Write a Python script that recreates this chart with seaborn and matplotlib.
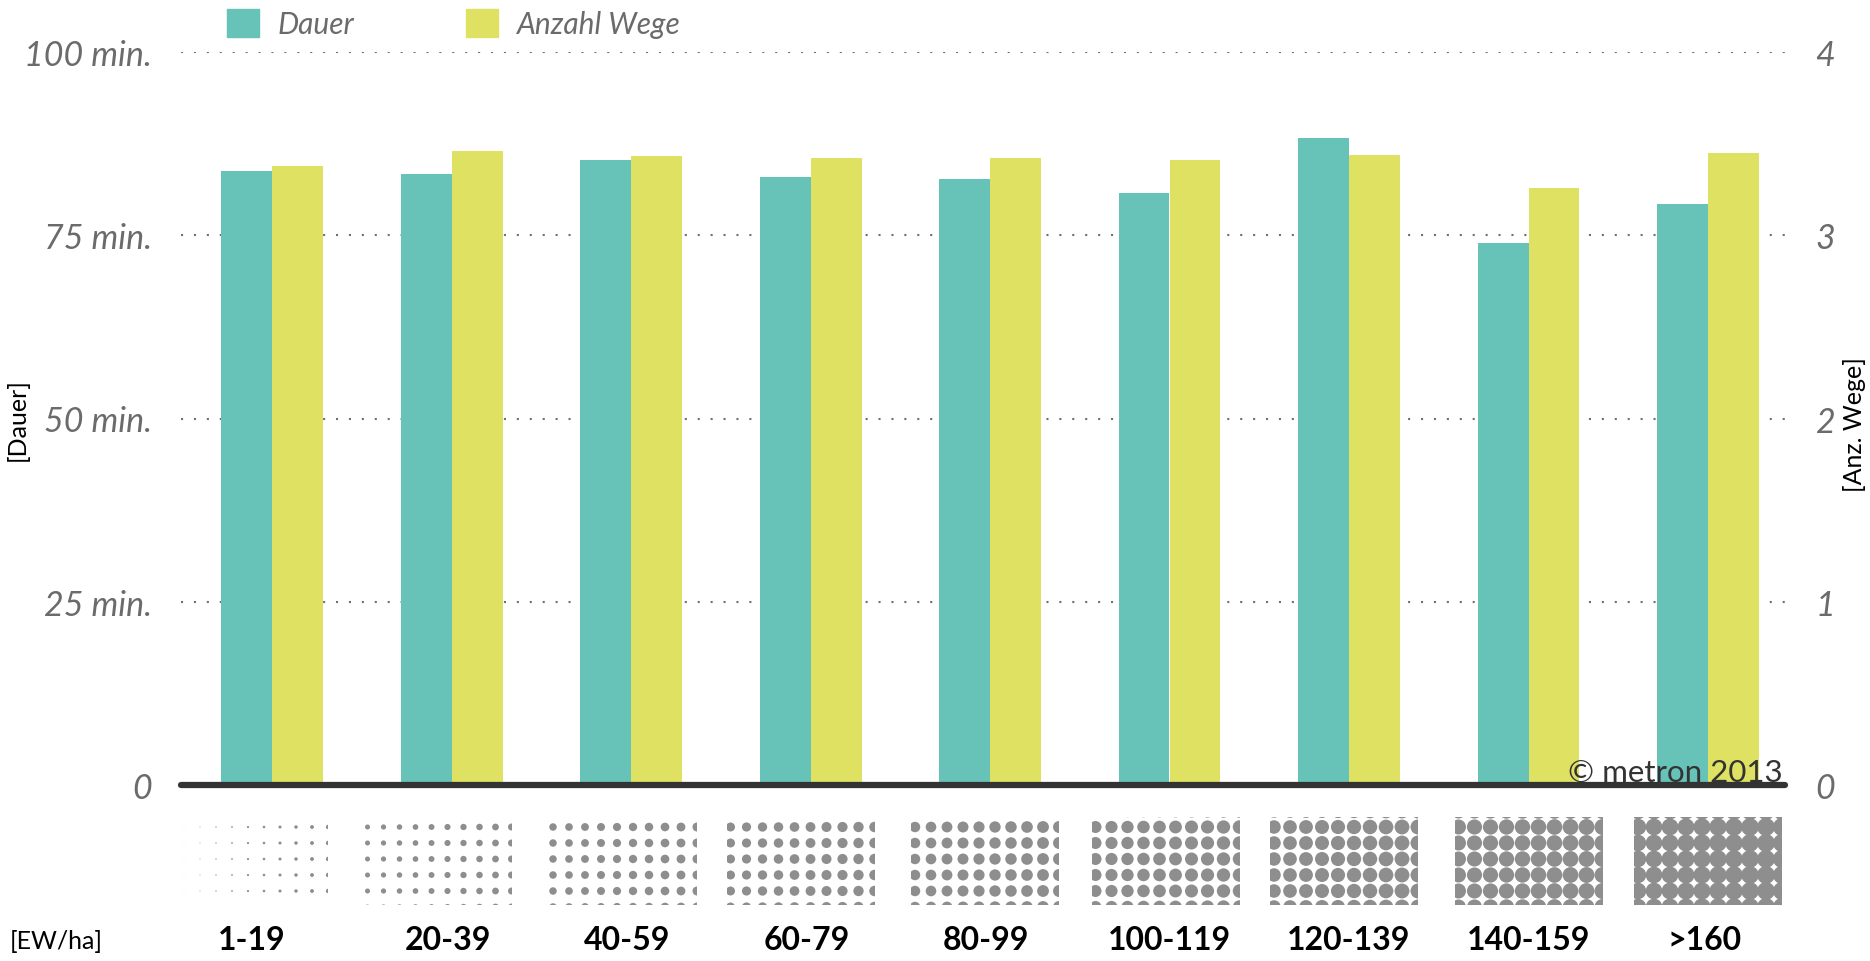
import pandas as pd
import matplotlib.pyplot as plt
import seaborn as sns
from matplotlib.patches import Patch, Rectangle

categories = ["1-19", "20-39", "40-59", "60-79", "80-99", "100-119", "120-139", "140-159", ">160"]
dauer = [83.8, 83.4, 85.3, 82.9, 82.7, 80.7, 88.3, 73.9, 79.3]
wege = [3.38, 3.46, 3.43, 3.42, 3.42, 3.41, 3.44, 3.26, 3.45]
series = ["Dauer", "Anzahl Wege"]
left_ticks = [0, 25, 50, 75, 100]
left_labels = ["0", "25 min.", "50 min.", "75 min.", "100 min."]
right_ticks = [0, 1, 2, 3, 4]
# dot diameter (px) in the density pattern, first and last column
dot_start = [0.5, 5.0, 7.5, 9.0, 10.5, 12.0, 13.5, 15.0, 16.5]
dot_end = [4.3, 7.0, 9.0, 10.5, 12.0, 13.5, 15.0, 16.0, 18.0]

teal = "#67C2B8"
yellow = "#DFE163"
grey = "#6B6B6B"
W, H = 1870, 962
# pattern / label shift against the bar groups, in px
pattern_shift = [-18, -14, -8, -10, -5, -4, -5, 0, 0]
label_shift = [-20, -4, -4, -4, -4, 0, 0, 0, -3]

sns.set_theme(style="white")
plt.rcParams["font.family"] = ["Lato", "DejaVu Sans"]

# right axis (0-4 Wege) mapped onto the left axis (0-100 min.)
ratio = 100 / 4
df = pd.DataFrame({
    "Kategorie": categories * 2,
    "Reihe": ["Dauer"] * len(categories) + ["Anzahl Wege"] * len(categories),
    "Wert": dauer + [w * ratio for w in wege],
})
pal = {"Dauer": teal, "Anzahl Wege": yellow}

unit = 179.5
xlim = (-(272 - 181) / unit, 8 + (1785 - 1708) / unit)

fig = plt.figure(figsize=(W / 100, H / 100), dpi=100)
ax = fig.add_axes([181 / W, 1 - 786 / H, 1604 / W, 733 / H])

sns.barplot(data=df, x="Kategorie", y="Wert", hue="Reihe", hue_order=series,
            order=categories, palette=pal, width=102 / unit, gap=0, saturation=1,
            linewidth=0, legend=False, ax=ax)

ax.set_xlim(*xlim)
ax.set_ylim(0, 100)
ax.set_xlabel("")
ax.set_ylabel("")
for s in ax.spines.values():
    s.set_visible(False)

ax2 = ax.twinx()
ax2.set_ylim(0, 4)
for s in ax2.spines.values():
    s.set_visible(False)
ax2.grid(False)

ax.set_axisbelow(True)
ax.grid(axis="y", color="#707070", linestyle=(0, (1, 5.2)), linewidth=1.5)
ax.grid(axis="x", visible=False)
ax.axhline(0, color="#333333", linewidth=4.5, zorder=5, clip_on=False)

ax.set_yticks(left_ticks, left_labels)
ax.tick_params(axis="y", length=0, pad=21, labelsize=24.5, labelcolor=grey)
ax2.set_yticks(right_ticks, [str(t) for t in right_ticks])
ax2.tick_params(axis="y", length=0, pad=22, labelsize=24.5, labelcolor=grey)
for lab in ax.get_yticklabels() + ax2.get_yticklabels():
    lab.set_fontstyle("italic")

ax.set_xticks([i + label_shift[i] / unit for i in range(len(categories))], categories)
ax.tick_params(axis="x", length=0, pad=101, labelsize=23, labelcolor="black")
for lab in ax.get_xticklabels():
    lab.set_fontweight("bold")

# density pattern under each category
pax = fig.add_axes([181 / W, 1 - 906 / H, 1604 / W, 88 / H])
pax.set_xlim(*xlim)
pax.set_ylim(906, 818)
pax.axis("off")
pw = 148 / unit
for i in range(len(categories)):
    left = i + pattern_shift[i] / unit - pw / 2
    clip = Rectangle((left, 818), pw, 88, transform=pax.transData)
    xs, ys, ss = [], [], []
    for k in range(10):
        d = dot_start[i] + (dot_end[i] - dot_start[i]) * k / 9
        for r in range(7):
            xs.append(left + (4 + 16 * k) / unit)
            ys.append(812 + 16 * r)
            ss.append((d * 0.72) ** 2)
    sc = pax.scatter(xs, ys, s=ss, color="#8E8E8E", linewidths=0)
    sc.set_clip_path(clip)

fig.legend([Patch(color=teal), Patch(color=yellow)], series, loc="upper left",
           bbox_to_anchor=(227 / W, 1 - 10 / H), ncol=2, frameon=False,
           handlelength=1.07, handleheight=1.07, handletextpad=0.62, columnspacing=3.75,
           borderpad=0, borderaxespad=0, labelcolor=grey,
           prop=dict(size=21.5, style="italic"))

fig.text(17 / W, 1 - 420 / H, "[Dauer]", rotation=90, ha="center", va="center", fontsize=18, color="black")
fig.text(1855 / W, 1 - 425 / H, "[Anz. Wege]", rotation=90, ha="center", va="center", fontsize=18, color="black")
fig.text(10 / W, 1 - 942 / H, "[EW/ha]", ha="left", va="center", fontsize=18, color="black")
fig.text(1783 / W, 1 - 782 / H, "© metron 2013", ha="right", va="baseline", fontsize=22.5, color="#333333")

fig.savefig("out.png", dpi=100)
